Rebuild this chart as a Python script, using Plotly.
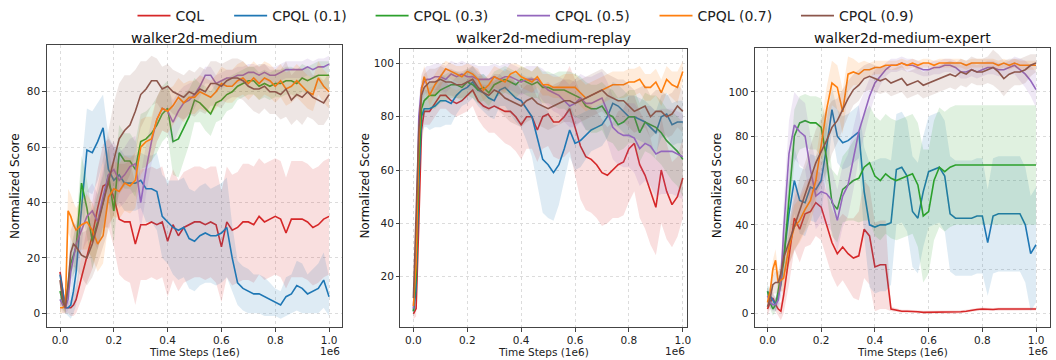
import plotly.graph_objects as go

# ---------------- data ----------------
X_EARLY = [0.0, 0.01, 0.02, 0.03, 0.04, 0.05, 0.06]
X = X_EARLY + [round(0.08 + 0.02 * i, 2) for i in range(47)]

NAMES = ["CQL", "CPQL (0.1)", "CPQL (0.3)", "CPQL (0.5)", "CPQL (0.7)", "CPQL (0.9)"]
COLORS = ["#d62728", "#1f77b4", "#2ca02c", "#9467bd", "#ff7f0e", "#8c564b"]
TITLES = ["walker2d-medium", "walker2d-medium-replay", "walker2d-medium-expert"]
X_TICKS = [0.0, 0.2, 0.4, 0.6, 0.8, 1.0]

# ---- walker2d-medium ----
MED_CQL = [15, 8, 2, 2, 2, 3, 5,
           13, 21, 28, 38, 46, 47, 42, 34, 33, 33,
           25, 32, 32, 33, 32, 33, 26, 32, 28, 31,
           32, 33, 33, 32, 33, 32, 24, 33, 30, 31,
           33, 33, 32, 35, 33, 34, 35, 34, 29, 34,
           34, 34, 33, 31, 32, 34, 35]
MED_CQL_SD = [3, 3, 2, 2, 3, 4, 5,
              8, 10, 12, 14, 15, 16, 18, 20, 21, 22,
              22, 20, 20, 20, 20, 20, 20, 20, 20, 20,
              20, 20, 20, 20, 20, 21, 20, 20, 20, 20,
              21, 21, 21, 21, 21, 21, 21, 21, 20, 21,
              21, 21, 21, 21, 21, 21, 21]
MED_Q01 = [14, 8, 2, 2, 3, 8, 15,
           38, 59, 58, 62, 67, 52, 48, 50, 47, 47,
           47, 48, 45, 45, 44, 35, 33, 31, 30, 31,
           27, 26, 28, 29, 28, 28, 29, 31, 20, 11,
           9, 8, 7, 7, 6, 5, 4, 3, 6, 7,
           10, 9, 7, 8, 9, 12, 6]
MED_Q01_SD = [3, 3, 2, 3, 5, 8, 12,
              15, 15, 15, 14, 12, 12, 12, 10, 10, 10,
              10, 10, 12, 12, 14, 15, 15, 17, 18, 18,
              18, 18, 18, 18, 17, 18, 18, 18, 12, 8,
              8, 8, 7, 7, 7, 6, 5, 5, 7, 7,
              9, 9, 7, 8, 9, 10, 7]
MED_Q03 = [8, 4, 2, 10, 18, 21, 24,
           47, 38, 26, 33, 40, 50, 37, 58, 55, 55,
           52, 62, 63, 65, 68, 72, 74, 62, 63, 67,
           71, 77, 76, 74, 72, 76, 77, 79, 80, 82,
           83, 84, 84, 82, 83, 82, 83, 83, 84, 84,
           83, 85, 84, 85, 86, 86, 86]
MED_Q03_SD = [4, 3, 2, 4, 6, 7, 8,
              10, 10, 10, 10, 10, 10, 12, 10, 10, 10,
              10, 10, 10, 10, 10, 10, 10, 12, 14, 12,
              10, 8, 7, 8, 8, 7, 7, 6, 6, 5,
              5, 5, 5, 5, 5, 5, 5, 5, 5, 5,
              5, 5, 5, 5, 5, 5, 5]
MED_Q05 = [5, 3, 2, 5, 15, 20, 25,
           30, 35, 37, 33, 42, 50, 52, 48, 50, 53,
           54, 40, 52, 62, 70, 74, 73, 69, 73, 76,
           77, 79, 82, 86, 86, 83, 84, 85, 85, 86,
           86, 87, 87, 86, 87, 86, 86, 87, 88, 88,
           88, 88, 89, 88, 89, 89, 90]
MED_Q05_SD = [3, 3, 2, 4, 6, 7, 8,
              8, 9, 10, 10, 10, 10, 10, 10, 10, 10,
              10, 10, 9, 8, 8, 8, 8, 8, 7, 6,
              6, 5, 4, 3, 3, 3, 3, 3, 3, 3,
              3, 3, 3, 3, 3, 3, 3, 3, 3, 3,
              3, 3, 3, 3, 3, 3, 3]
MED_Q07 = [2, 2, 3, 37, 35, 32, 30,
           32, 33, 30, 25, 28, 42, 45, 44, 47, 46,
           48, 60, 62, 63, 70, 74, 73, 75, 78, 76,
           78, 78, 80, 79, 78, 80, 83, 82, 82, 84,
           85, 83, 85, 83, 85, 84, 82, 84, 81, 82,
           84, 82, 80, 79, 85, 82, 80]
MED_Q07_SD = [2, 2, 3, 8, 8, 8, 8,
              9, 10, 10, 10, 10, 10, 10, 10, 10, 10,
              10, 10, 9, 8, 8, 8, 8, 7, 7, 7,
              6, 6, 6, 6, 6, 6, 6, 6, 6, 6,
              6, 6, 6, 6, 6, 6, 6, 6, 6, 6,
              6, 6, 6, 6, 6, 6, 6]
MED_Q09 = [12, 5, 2, 10, 22, 25, 24,
           21, 20, 25, 32, 40, 48, 56, 63, 66, 68,
           73, 79, 81, 84, 84, 81, 82, 80, 79, 78,
           80, 79, 81, 80, 83, 83, 82, 84, 85, 85,
           84, 82, 81, 81, 82, 80, 80, 79, 81, 77,
           79, 78, 80, 78, 77, 76, 79]
MED_Q09_SD = [3, 3, 2, 5, 8, 8, 8,
              8, 10, 12, 14, 16, 18, 20, 20, 20, 18,
              15, 12, 10, 9, 8, 8, 8, 8, 8, 8,
              8, 8, 8, 8, 8, 8, 8, 7, 7, 7,
              7, 7, 8, 9, 8, 8, 8, 9, 10, 9,
              9, 10, 9, 8, 9, 8, 8]

# ---- walker2d-medium-replay ----
REP_CQL = [6, 8, 40, 75, 82, 82, 82,
           85, 88, 88, 86, 85, 86, 88, 90, 86, 84,
           83, 84, 83, 82, 82, 80, 77, 80, 80, 75,
           80, 81, 78, 78, 80, 83, 76, 69, 65, 64,
           62, 59, 58, 60, 62, 63, 68, 70, 62, 58,
           52, 46, 60, 52, 47, 50, 57]
REP_CQL_SD = [2, 3, 6, 6, 5, 5, 5,
              5, 5, 5, 5, 5, 5, 6, 6, 7, 8,
              9, 10, 11, 12, 13, 13, 13, 12, 12, 12,
              12, 12, 13, 14, 15, 16, 18, 20, 20, 20,
              20, 20, 18, 18, 20, 20, 20, 18, 20, 20,
              20, 18, 20, 18, 16, 15, 15]
REP_Q01 = [7, 15, 55, 80, 83, 83, 83,
           84, 86, 86, 85, 88, 90, 91, 93, 90, 89,
           87, 86, 90, 91, 89, 87, 86, 83, 80, 72,
           64, 62, 59, 62, 68, 75, 70, 71, 73, 75,
           76, 77, 80, 85, 84, 82, 80, 80, 79, 78,
           76, 74, 80, 81, 77, 78, 78]
REP_Q01_SD = [2, 4, 8, 7, 7, 7, 8,
              8, 10, 9, 8, 7, 6, 6, 6, 6, 7,
              7, 7, 6, 7, 8, 9, 10, 12, 15, 18,
              20, 20, 18, 15, 12, 10, 10, 10, 9, 8,
              8, 8, 8, 8, 8, 8, 8, 8, 8, 8,
              8, 8, 8, 8, 8, 8, 8]
REP_Q03 = [7, 20, 62, 83, 86, 87, 88,
           88, 90, 91, 92, 92, 91, 93, 92, 90, 91,
           89, 92, 93, 94, 93, 92, 94, 93, 92, 93,
           91, 91, 90, 90, 90, 89, 88, 87, 84, 83,
           83, 84, 81, 80, 77, 78, 80, 80, 74, 78,
           77, 76, 74, 71, 69, 67, 64]
REP_Q03_SD = [2, 4, 6, 5, 5, 5, 5,
              5, 5, 5, 5, 5, 5, 5, 5, 5, 5,
              5, 5, 5, 5, 5, 5, 5, 5, 5, 6,
              6, 6, 6, 7, 7, 8, 8, 8, 9, 9,
              9, 9, 10, 10, 10, 10, 10, 10, 11, 11,
              11, 12, 12, 12, 13, 13, 14]
REP_Q05 = [8, 30, 80, 91, 93, 94, 94,
           95, 95, 94, 96, 95, 96, 95, 95, 94, 94,
           94, 95, 94, 95, 95, 94, 93, 94, 94, 94,
           92, 90, 89, 88, 86, 84, 85, 87, 85, 85,
           86, 87, 82, 76, 74, 73, 73, 72, 68, 70,
           69, 66, 67, 67, 67, 66, 65]
REP_Q05_SD = [2, 4, 6, 5, 5, 5, 5,
              5, 5, 5, 5, 5, 5, 5, 5, 5, 5,
              5, 5, 5, 5, 5, 5, 5, 5, 5, 5,
              6, 6, 7, 7, 8, 8, 9, 9, 10, 10,
              10, 10, 11, 12, 12, 12, 12, 13, 14, 14,
              15, 16, 16, 16, 16, 16, 16]
REP_Q07 = [9, 25, 70, 90, 95, 92, 88,
           92, 95, 98, 97, 96, 95, 97, 96, 94, 90,
           92, 95, 94, 93, 96, 97, 95, 94, 93, 95,
           92, 92, 91, 91, 91, 91, 91, 89, 87, 88,
           89, 90, 91, 92, 92, 92, 93, 93, 94, 91,
           91, 93, 89, 94, 92, 91, 97]
REP_Q07_SD = [2, 4, 6, 5, 4, 4, 4,
              4, 4, 3, 3, 3, 4, 3, 3, 4, 4,
              4, 4, 4, 4, 4, 3, 4, 4, 4, 4,
              4, 4, 4, 4, 5, 5, 5, 5, 5, 5,
              5, 5, 5, 5, 5, 5, 5, 5, 5, 5,
              5, 5, 5, 5, 5, 6, 4]
REP_Q09 = [12, 40, 75, 88, 91, 92, 93,
           93, 94, 93, 93, 92, 92, 93, 94, 91, 89,
           88, 90, 89, 87, 86, 85, 84, 86, 87, 85,
           84, 83, 84, 85, 86, 86, 85, 86, 87, 88,
           89, 90, 88, 87, 86, 86, 84, 82, 83, 84,
           80, 82, 82, 80, 81, 84, 82]
REP_Q09_SD = [3, 5, 6, 5, 5, 5, 5,
              5, 5, 5, 5, 5, 5, 5, 5, 6, 6,
              6, 6, 7, 7, 8, 8, 8, 8, 8, 8,
              8, 8, 8, 8, 8, 8, 8, 8, 8, 8,
              8, 8, 8, 8, 8, 8, 8, 8, 8, 8,
              8, 8, 8, 8, 8, 8, 8]

# ---- walker2d-medium-expert ----
EXP_CQL = [2, 5, 7, 4, 2, 1, 8,
           25, 43, 38, 45, 46, 50, 48, 40, 32, 27,
           30, 27, 25, 26, 38, 35, 21, 22, 22, 2,
           1.5, 1, 1, 1, 0.8, 0.5, 0.5, 0.5, 0.5, 0.5,
           0.5, 0.5, 0.8, 1, 1.5, 1.8, 2, 1.8, 1.8, 2,
           2, 2, 2, 2, 2, 2, 2]
EXP_CQL_SD = [3, 3, 3, 3, 3, 4, 8,
              12, 14, 15, 15, 15, 15, 15, 15, 15, 15,
              15, 16, 18, 20, 22, 22, 20, 20, 20, 1,
              0.7, 0.7, 0.7, 0.7, 0.7, 0.7, 0.7, 0.7, 0.7, 0.7,
              0.7, 0.7, 0.7, 0.7, 0.7, 0.7, 0.7, 0.7, 0.7, 0.7,
              0.7, 0.7, 0.7, 0.7, 0.7, 0.7, 0.7]
EXP_Q01 = [10, 8, 6, 4, 8, 13, 25,
           45, 60, 51, 50, 57, 56, 60, 75, 92, 80,
           77, 78, 80, 82, 55, 40, 39, 40, 40, 41,
           65, 66, 62, 46, 43, 55, 64, 65, 66, 62,
           45, 43, 43, 43, 43, 44, 44, 32, 44, 45,
           45, 45, 45, 45, 40, 27, 31]
EXP_Q01_SD = [3, 3, 3, 3, 4, 5, 8,
              15, 15, 15, 15, 15, 15, 15, 12, 10, 12,
              12, 12, 12, 12, 20, 28, 30, 30, 30, 28,
              25, 25, 25, 25, 25, 25, 25, 25, 25, 25,
              26, 26, 26, 26, 26, 26, 26, 24, 26, 26,
              26, 26, 26, 26, 26, 26, 26]
EXP_Q03 = [10, 5, 2, 4, 10, 18, 23,
           52, 80, 86, 87, 86, 86, 84, 70, 50, 47,
           56, 58, 60, 61, 66, 68, 62, 60, 63, 61,
           60, 61, 62, 63, 58, 44, 46, 60, 66, 64,
           66, 67, 67, 67, 67, 67, 67, 67, 67, 67,
           67, 67, 67, 67, 67, 67, 67]
EXP_Q03_SD = [3, 3, 3, 3, 4, 5, 8,
              12, 12, 12, 12, 12, 12, 13, 15, 15, 15,
              15, 16, 18, 20, 24, 26, 27, 27, 27, 27,
              27, 27, 27, 27, 28, 30, 28, 27, 27, 27,
              27, 27, 27, 27, 27, 27, 27, 27, 27, 27,
              27, 27, 27, 27, 27, 27, 27]
EXP_Q05 = [8, 5, 4, 4, 6, 15, 37,
           72, 85, 82, 80, 65, 53, 55, 54, 51, 42,
           53, 58, 70, 82, 90, 98, 104, 107, 110, 112,
           112, 113, 112, 112, 111, 110, 110, 111, 111, 112,
           112, 111, 109, 109, 110, 109, 110, 111, 111, 110,
           110, 111, 112, 110, 108, 105, 101]
EXP_Q05_SD = [3, 3, 3, 3, 4, 8, 12,
              15, 15, 15, 15, 15, 15, 14, 14, 14, 14,
              14, 14, 14, 12, 10, 8, 6, 4, 3, 3,
              3, 3, 3, 3, 3, 3, 3, 3, 3, 3,
              3, 3, 3, 3, 3, 3, 3, 3, 3, 3,
              3, 3, 4, 5, 6, 7, 8]
EXP_Q07 = [5, 10, 20, 24, 14, 15, 16,
           30, 39, 42, 47, 51, 60, 76, 92, 104, 102,
           91, 108, 109, 108, 110, 110, 111, 111, 112, 112,
           112, 113, 112, 113, 112, 113, 113, 112, 113, 113,
           113, 113, 113, 112, 113, 113, 113, 113, 113, 112,
           113, 112, 113, 112, 112, 112, 112]
EXP_Q07_SD = [3, 3, 4, 5, 5, 5, 6,
              8, 10, 10, 10, 10, 10, 10, 10, 10, 10,
              10, 8, 6, 5, 4, 3, 3, 3, 2, 2,
              2, 2, 2, 2, 2, 2, 2, 2, 2, 2,
              2, 2, 2, 2, 2, 2, 2, 2, 2, 2,
              2, 2, 2, 2, 2, 2, 2]
EXP_Q09 = [3, 7, 13, 14, 14, 18, 25,
           32, 40, 47, 53, 60, 68, 73, 78, 84, 87,
           92, 97, 101, 103, 106, 107, 106, 105, 106, 104,
           105, 106, 103, 104, 105, 103, 104, 105, 106, 107,
           108, 107, 109, 108, 110, 109, 109, 110, 111, 109,
           106, 108, 109, 109, 110, 112, 113]
EXP_Q09_SD = [3, 3, 4, 5, 5, 6, 8,
              10, 12, 14, 15, 15, 15, 15, 14, 12, 10,
              9, 8, 7, 7, 6, 6, 6, 6, 6, 6,
              6, 6, 6, 6, 6, 6, 6, 6, 6, 6,
              6, 6, 6, 6, 6, 6, 6, 6, 8, 8,
              8, 7, 6, 6, 6, 5, 4]

PANEL_MEANS = [
    [MED_CQL, MED_Q01, MED_Q03, MED_Q05, MED_Q07, MED_Q09],
    [REP_CQL, REP_Q01, REP_Q03, REP_Q05, REP_Q07, REP_Q09],
    [EXP_CQL, EXP_Q01, EXP_Q03, EXP_Q05, EXP_Q07, EXP_Q09],
]
PANEL_SDS = [
    [MED_CQL_SD, MED_Q01_SD, MED_Q03_SD, MED_Q05_SD, MED_Q07_SD, MED_Q09_SD],
    [REP_CQL_SD, REP_Q01_SD, REP_Q03_SD, REP_Q05_SD, REP_Q07_SD, REP_Q09_SD],
    [EXP_CQL_SD, EXP_Q01_SD, EXP_Q03_SD, EXP_Q05_SD, EXP_Q07_SD, EXP_Q09_SD],
]
Y_TICKS = [[0, 20, 40, 60, 80], [20, 40, 60, 80, 100], [0, 20, 40, 60, 80, 100]]

# ---------------- layout geometry (pixels) ----------------
W, H = 1056, 360
BOX_X = [(47, 343), (402, 690), (758, 1054)]
BOX_TOP = [45, 49, 48]
BOX_BOT = 327
X_RANGES = [(-0.049, 1.047), (-0.048, 1.017), (-0.046, 1.052)]
Y_RANGES = [(-4.95, 96.9), (1.1, 105.4), (-6.1, 119.8)]
YLAB_X = [15, 366, 720]
LEGEND_LINE_X = [143, 240, 382, 524, 667, 809]   # where each legend sample starts
LEGEND_OFFSET = 10                                 # legend origin -> sample start


def rgba(hexc, a):
    h = hexc.lstrip("#")
    return "rgba(%d,%d,%d,%s)" % (int(h[0:2], 16), int(h[2:4], 16), int(h[4:6], 16), a)


fig = go.Figure()
FONT = "DejaVu Sans"
LEG_IDS = ["legend"] + ["legend%d" % i for i in range(2, 7)]

for p in range(3):
    xa = "x" if p == 0 else "x%d" % (p + 1)
    ya = "y" if p == 0 else "y%d" % (p + 1)
    for s in range(6):
        m = PANEL_MEANS[p][s]
        sd = PANEL_SDS[p][s]
        assert len(m) == len(X), (p, s, len(m))
        assert len(sd) == len(X), (p, s, "sd", len(sd))
        upper = [a + b for a, b in zip(m, sd)]
        lower = [a - b for a, b in zip(m, sd)]
        fig.add_trace(go.Scatter(
            x=X + X[::-1], y=upper + lower[::-1], xaxis=xa, yaxis=ya,
            fill="toself", fillcolor=rgba(COLORS[s], 0.15),
            line=dict(width=0), mode="lines", showlegend=False, hoverinfo="skip"))
        fig.add_trace(go.Scatter(
            x=X, y=m, xaxis=xa, yaxis=ya, mode="lines",
            line=dict(color=COLORS[s], width=1.6),
            name=NAMES[s], legendgroup=NAMES[s], showlegend=(p == 0),
            legend=LEG_IDS[s]))

layout = dict(
    width=W, height=H, autosize=False,
    margin=dict(l=0, r=0, t=0, b=0),
    paper_bgcolor="white", plot_bgcolor="white",
    font=dict(family=FONT, color="#222"),
    showlegend=True,
    hovermode=False,
)
for s, lid in enumerate(LEG_IDS):
    layout[lid] = dict(orientation="h", x=(LEGEND_LINE_X[s] - LEGEND_OFFSET) / W, xanchor="left",
                       y=1.0, yanchor="top",
                       font=dict(size=14, family=FONT, color="#222"),
                       itemwidth=33, bgcolor="rgba(0,0,0,0)", borderwidth=0)

annotations = []
for p in range(3):
    xk = "xaxis" if p == 0 else "xaxis%d" % (p + 1)
    yk = "yaxis" if p == 0 else "yaxis%d" % (p + 1)
    x0, x1 = BOX_X[p]
    dom_x = [x0 / W, x1 / W]
    dom_y = [1 - BOX_BOT / H, 1 - BOX_TOP[p] / H]
    common = dict(showline=True, mirror=True, linecolor="#444", linewidth=1,
                  ticks="outside", ticklen=3.5, tickwidth=1, tickcolor="#444",
                  showgrid=True, gridcolor="#dcdcdc", gridwidth=0.8, griddash="dot",
                  zeroline=False, tickfont=dict(size=10.5, family=FONT, color="#222"))
    layout[xk] = dict(domain=dom_x, range=list(X_RANGES[p]), anchor="y" if p == 0 else "y%d" % (p + 1),
                      tickvals=X_TICKS, ticktext=["%.1f" % v for v in X_TICKS], **common)
    layout[yk] = dict(domain=dom_y, range=list(Y_RANGES[p]), anchor="x" if p == 0 else "x%d" % (p + 1),
                      tickvals=Y_TICKS[p], **common)
    cx = (x0 + x1) / 2 / W
    annotations.append(dict(text=TITLES[p], x=cx, y=1 - 38 / H, xref="paper", yref="paper",
                            xanchor="center", yanchor="middle", showarrow=False,
                            font=dict(size=14, family=FONT, color="#111")))
    annotations.append(dict(text="Time Steps (1e6)", x=cx, y=1 - 352 / H, xref="paper", yref="paper",
                            xanchor="center", yanchor="middle", showarrow=False,
                            font=dict(size=10.5, family=FONT, color="#222")))
    annotations.append(dict(text="1e6", x=x1 / W, y=1 - 351 / H, xref="paper", yref="paper",
                            xanchor="right", yanchor="middle", showarrow=False,
                            font=dict(size=10.5, family=FONT, color="#222")))
    annotations.append(dict(text="Normalized Score", x=YLAB_X[p] / W, y=1 - 186 / H,
                            xref="paper", yref="paper", textangle=-90,
                            xanchor="center", yanchor="middle", showarrow=False,
                            font=dict(size=12, family=FONT, color="#111")))
layout["annotations"] = annotations
fig.update_layout(**layout)

fig.write_html("out.html")
